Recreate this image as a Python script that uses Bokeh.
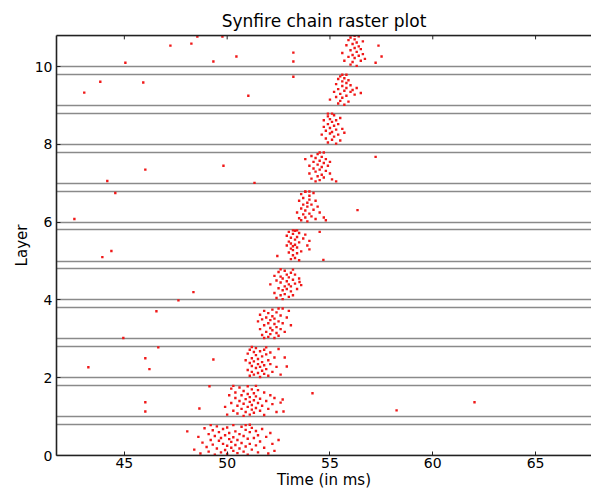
from bokeh.plotting import figure
from bokeh.models import LinearAxis, Range1d, FixedTicker
from bokeh.embed import file_html
from bokeh.resources import INLINE

# Layer boundaries (each layer occupies [k, k + 0.8])
layer_starts = [0, 1, 2, 3, 4, 5, 6, 7, 8, 9, 10]
layer_height = 0.8

x_ticks = [45, 50, 55, 60, 65]
y_ticks = [0, 2, 4, 6, 8, 10]

# spikes per layer: (time in ms, neuron position)
layer0 = [(48.4,0.15),(48.6,0.48),(48.7,0.05),(48.8,0.33),(48.9,0.70),(49.0,0.22),(49.1,0.55),(49.1,0.10),
          (49.2,0.40),(49.3,0.65),(49.3,0.28),(49.4,0.02),(49.4,0.50),(49.5,0.75),(49.5,0.18),(49.6,0.38),
          (49.6,0.60),(49.7,0.08),(49.7,0.45),(49.8,0.30),(49.8,0.68),(49.9,0.14),(49.9,0.52),(50.0,0.25),
          (50.0,0.72),(50.0,0.04),(50.1,0.42),(50.1,0.58),(50.2,0.20),(50.2,0.35),(50.3,0.78),(50.3,0.12),
          (50.3,0.47),(50.4,0.62),(50.4,0.27),(50.5,0.06),(50.5,0.40),(50.6,0.55),(50.6,0.18),(50.7,0.74),
          (50.7,0.32),(50.8,0.10),(50.8,0.50),(50.9,0.66),(50.9,0.23),(51.0,0.43),(51.0,0.02),(51.1,0.60),
          (51.1,0.30),(51.2,0.15),(51.2,0.71),(51.3,0.45),(51.4,0.26),(51.4,0.63),(51.5,0.08),(51.5,0.52),
          (51.6,0.36),(51.7,0.68),(51.8,0.20),(51.9,0.48),(52.0,0.05),(52.1,0.58),(52.2,0.30),(52.3,0.12),
          (52.5,0.40),(49.2,0.78),(50.9,0.78),(51.1,0.79)]
layer1 = [(49.9,1.25),(50.0,1.05),(50.1,1.55),(50.2,1.35),(50.2,1.72),(50.3,1.15),(50.4,1.48),(50.4,1.62),
          (50.5,1.28),(50.5,1.08),(50.6,1.40),(50.6,1.75),(50.7,1.20),(50.7,1.55),(50.8,1.02),(50.8,1.33),
          (50.8,1.66),(50.9,1.45),(50.9,1.12),(51.0,1.58),(51.0,1.25),(51.0,1.78),(51.1,1.38),(51.1,1.05),
          (51.1,1.50),(51.2,1.70),(51.2,1.18),(51.2,1.30),(51.3,1.60),(51.3,1.42),(51.3,1.10),(51.4,1.22),
          (51.4,1.52),(51.5,1.68),(51.5,1.35),(51.6,1.15),(51.6,1.46),(51.7,1.28),(51.8,1.62),(51.8,1.04),
          (51.9,1.40),(52.0,1.20),(52.1,1.55),(52.2,1.32),(52.3,1.48),(52.4,1.12),(52.6,1.36),(52.7,1.44),
          (50.3,1.79),(51.4,1.79)]
layer2 = [(50.9,2.45),(51.0,2.20),(51.0,2.62),(51.1,2.05),(51.1,2.38),(51.1,2.72),(51.2,2.15),(51.2,2.50),
          (51.2,2.30),(51.3,2.66),(51.3,2.08),(51.3,2.42),(51.4,2.25),(51.4,2.58),(51.4,2.76),(51.5,2.12),
          (51.5,2.35),(51.5,2.48),(51.6,2.02),(51.6,2.68),(51.6,2.28),(51.7,2.55),(51.7,2.18),(51.7,2.40),
          (51.8,2.72),(51.8,2.10),(51.8,2.32),(51.9,2.60),(51.9,2.22),(52.0,2.45),(52.0,2.05),(52.1,2.65),
          (52.1,2.35),(52.2,2.15),(52.3,2.52),(52.4,2.28),(52.5,2.74),(52.6,2.08),(52.8,2.52),(52.9,2.29),
          (51.2,2.79),(51.9,2.78)]
layer3 = [(51.5,3.45),(51.6,3.25),(51.6,3.62),(51.7,3.10),(51.7,3.50),(51.8,3.35),(51.8,3.72),(51.9,3.18),
          (51.9,3.55),(52.0,3.05),(52.0,3.40),(52.0,3.66),(52.1,3.28),(52.1,3.48),(52.1,3.12),(52.2,3.58),
          (52.2,3.22),(52.2,3.75),(52.3,3.38),(52.3,3.02),(52.3,3.52),(52.4,3.15),(52.4,3.68),(52.4,3.30),
          (52.5,3.45),(52.5,3.08),(52.6,3.60),(52.6,3.25),(52.7,3.40),(52.7,3.78),(52.8,3.18),(52.9,3.55),
          (53.0,3.72),(53.1,3.35),(51.8,3.02),(52.5,3.78)]
layer4 = [(52.1,4.40),(52.3,4.62),(52.3,4.18),(52.4,4.05),(52.4,4.50),(52.5,4.30),(52.5,4.72),(52.6,4.12),
          (52.6,4.45),(52.6,4.60),(52.7,4.25),(52.7,4.02),(52.7,4.55),(52.8,4.35),(52.8,4.75),(52.8,4.15),
          (52.9,4.48),(52.9,4.28),(52.9,4.65),(53.0,4.08),(53.0,4.40),(53.0,4.58),(53.1,4.22),(53.1,4.70),
          (53.1,4.35),(53.2,4.52),(53.2,4.12),(53.3,4.42),(53.3,4.65),(53.4,4.28),(53.5,4.55),(53.6,4.38),
          (53.2,4.78),(52.6,4.79)]
layer5 = [(52.9,5.40),(52.9,5.65),(53.0,5.22),(53.0,5.50),(53.0,5.75),(53.1,5.05),(53.1,5.32),(53.1,5.60),
          (53.1,5.45),(53.2,5.15),(53.2,5.70),(53.2,5.38),(53.2,5.28),(53.3,5.55),(53.3,5.08),(53.3,5.78),
          (53.3,5.42),(53.4,5.20),(53.4,5.62),(53.4,5.35),(53.5,5.48),(53.5,5.02),(53.5,5.72),(53.6,5.25),
          (53.7,5.58),(53.8,5.68),(53.9,5.40),(54.0,5.30),(54.0,5.52),(54.5,5.75),(53.2,5.79),(53.4,5.79)]
layer6 = [(53.4,6.25),(53.5,6.10),(53.5,6.55),(53.6,6.35),(53.6,6.72),(53.6,6.05),(53.7,6.45),(53.7,6.20),
          (53.7,6.62),(53.8,6.30),(53.8,6.78),(53.8,6.12),(53.9,6.50),(53.9,6.02),(53.9,6.40),(54.0,6.68),
          (54.0,6.22),(54.0,6.58),(54.1,6.15),(54.1,6.45),(54.2,6.32),(54.2,6.75),(54.3,6.08),(54.3,6.55),
          (54.4,6.40),(54.5,6.25),(54.7,6.12),(54.8,6.05),(53.8,6.79),(54.0,6.79)]
layer7 = [(53.8,7.62),(54.0,7.25),(54.0,7.45),(54.1,7.70),(54.1,7.12),(54.2,7.38),(54.2,7.55),(54.3,7.05),
          (54.3,7.65),(54.3,7.30),(54.4,7.48),(54.4,7.18),(54.4,7.75),(54.5,7.35),(54.5,7.58),(54.5,7.08),
          (54.6,7.42),(54.6,7.68),(54.6,7.22),(54.7,7.52),(54.7,7.15),(54.8,7.62),(54.8,7.32),(54.9,7.45),
          (55.0,7.25),(55.0,7.55),(55.1,7.10),(55.3,7.05),(54.5,7.79),(54.7,7.79)]
layer8 = [(54.6,8.25),(54.7,8.45),(54.7,8.62),(54.8,8.15),(54.8,8.35),(54.9,8.72),(54.9,8.05),(54.9,8.52),
          (55.0,8.28),(55.0,8.42),(55.0,8.65),(55.1,8.12),(55.1,8.58),(55.1,8.32),(55.2,8.75),(55.2,8.20),
          (55.2,8.48),(55.3,8.02),(55.3,8.38),(55.3,8.62),(55.4,8.25),(55.4,8.52),(55.5,8.10),(55.5,8.68),
          (55.6,8.40),(55.7,8.30),(55.1,8.79),(54.9,8.79)]
layer9 = [(55.0,9.15),(55.2,9.35),(55.3,9.55),(55.3,9.22),(55.4,9.68),(55.4,9.05),(55.4,9.42),(55.5,9.30),
          (55.5,9.75),(55.5,9.12),(55.6,9.50),(55.6,9.62),(55.6,9.20),(55.7,9.38),(55.7,9.02),(55.7,9.70),
          (55.8,9.45),(55.8,9.25),(55.8,9.58),(55.9,9.10),(55.9,9.65),(56.0,9.35),(56.0,9.52),(56.1,9.40),
          (56.2,9.28),(56.3,9.45),(56.5,9.32),(55.6,9.79),(55.8,9.79)]
layer10 = [(55.6,10.35),(55.7,10.15),(55.8,10.55),(55.9,10.25),(55.9,10.68),(56.0,10.05),(56.0,10.42),
           (56.0,10.75),(56.1,10.30),(56.1,10.58),(56.1,10.12),(56.2,10.48),(56.2,10.22),(56.2,10.70),
           (56.3,10.38),(56.3,10.02),(56.3,10.62),(56.4,10.28),(56.4,10.52),(56.4,10.78),(56.5,10.15),
           (56.5,10.45),(56.6,10.32),(56.6,10.65),(56.7,10.20),(56.2,10.79)]
# spontaneous (background) spikes
background = [(43.05,9.33),(43.83,9.61),(45.05,10.10),(45.92,9.59),(47.24,10.54),(48.26,10.59),
              (48.55,10.77),(49.77,10.77),(49.33,10.13),(50.45,10.26),(51.03,9.25),(53.22,10.36),
              (53.22,10.13),(53.22,9.74),(49.82,7.45),(46.02,7.35),(44.17,7.06),(44.56,6.75),
              (51.33,7.01),(42.57,6.08),(43.93,5.10),(44.37,5.26),(52.44,5.13),(48.36,4.20),
              (47.63,3.99),(46.56,3.71),(44.95,3.02),(46.65,2.78),(46.02,2.50),(46.22,2.22),
              (43.25,2.27),(49.33,2.47),(49.14,1.78),(46.02,1.37),(46.02,1.13),(48.65,1.21),
              (52.74,1.13),(48.06,0.62),(54.15,1.60),(58.24,1.16),(62.03,1.37),(54.68,5.03),
              (53.52,4.46),(57.36,10.54),(57.51,10.26),(57.22,10.10),(57.22,7.68),(56.34,6.31)]

layers = [layer0, layer1, layer2, layer3, layer4, layer5, layer6, layer7, layer8, layer9, layer10]
spikes = [s for layer in layers for s in layer] + background
spike_t = [s[0] for s in spikes]
spike_y = [s[1] for s in spikes]

FONT = "DejaVu Sans"
SPINE = "#222222"

p = figure(width=591, height=491, output_backend="svg", toolbar_location=None,
           x_range=Range1d(41.7, 67.72), y_range=Range1d(0, 10.8),
           min_border_left=56, min_border_right=0, min_border_bottom=36, min_border_top=35,
           title="Synfire chain raster plot")
p.outline_line_color = None
p.grid.visible = False
p.background_fill_color = "white"
p.border_fill_color = "white"

p.title.align = "center"
p.title.text_font = FONT
p.title.text_font_style = "normal"
p.title.text_font_size = "17px"
p.title.text_color = "black"

# layer boundary lines
bounds = []
for k in layer_starts:
    bounds += [k, k + layer_height]
p.hspan(y=bounds, line_color="#8a8a8a", line_width=1.6)

p.scatter(spike_t, spike_y, marker="square", size=2.4, fill_color="#f01818", line_color=None)

# inward tick marks along the top spine
y_top = p.y_range.end
p.segment(x0=x_ticks, x1=x_ticks, y0=[y_top] * len(x_ticks), y1=[y_top - 0.1] * len(x_ticks),
          line_color=SPINE, line_width=1)

for ax in (p.xaxis[0], p.yaxis[0]):
    ax.axis_line_width = 1.6
    ax.axis_line_color = SPINE
    ax.major_tick_in = 4
    ax.major_tick_out = 0
    ax.major_tick_line_color = SPINE
    ax.minor_tick_line_color = None
    ax.major_label_text_font = FONT
    ax.major_label_text_font_size = "14px"
    ax.major_label_text_color = "black"
    ax.axis_label_text_font = FONT
    ax.axis_label_text_font_size = "15px"
    ax.axis_label_text_font_style = "normal"
    ax.axis_label_text_color = "black"

p.xaxis[0].ticker = FixedTicker(ticks=x_ticks)
p.yaxis[0].ticker = FixedTicker(ticks=y_ticks)
p.xaxis[0].axis_label = "Time (in ms)"
p.yaxis[0].axis_label = "Layer"
p.xaxis[0].major_label_standoff = 2
p.xaxis[0].axis_label_standoff = 0
p.yaxis[0].major_label_standoff = 4
p.yaxis[0].axis_label_standoff = 1

# top spine (no ticks or labels of its own)
top_axis = LinearAxis(ticker=FixedTicker(ticks=[]), major_tick_in=0, major_tick_out=0,
                      minor_tick_line_color=None, axis_line_width=1.6, axis_line_color=SPINE)
p.add_layout(top_axis, "above")

open("out.html", "w").write(file_html(p, INLINE))
